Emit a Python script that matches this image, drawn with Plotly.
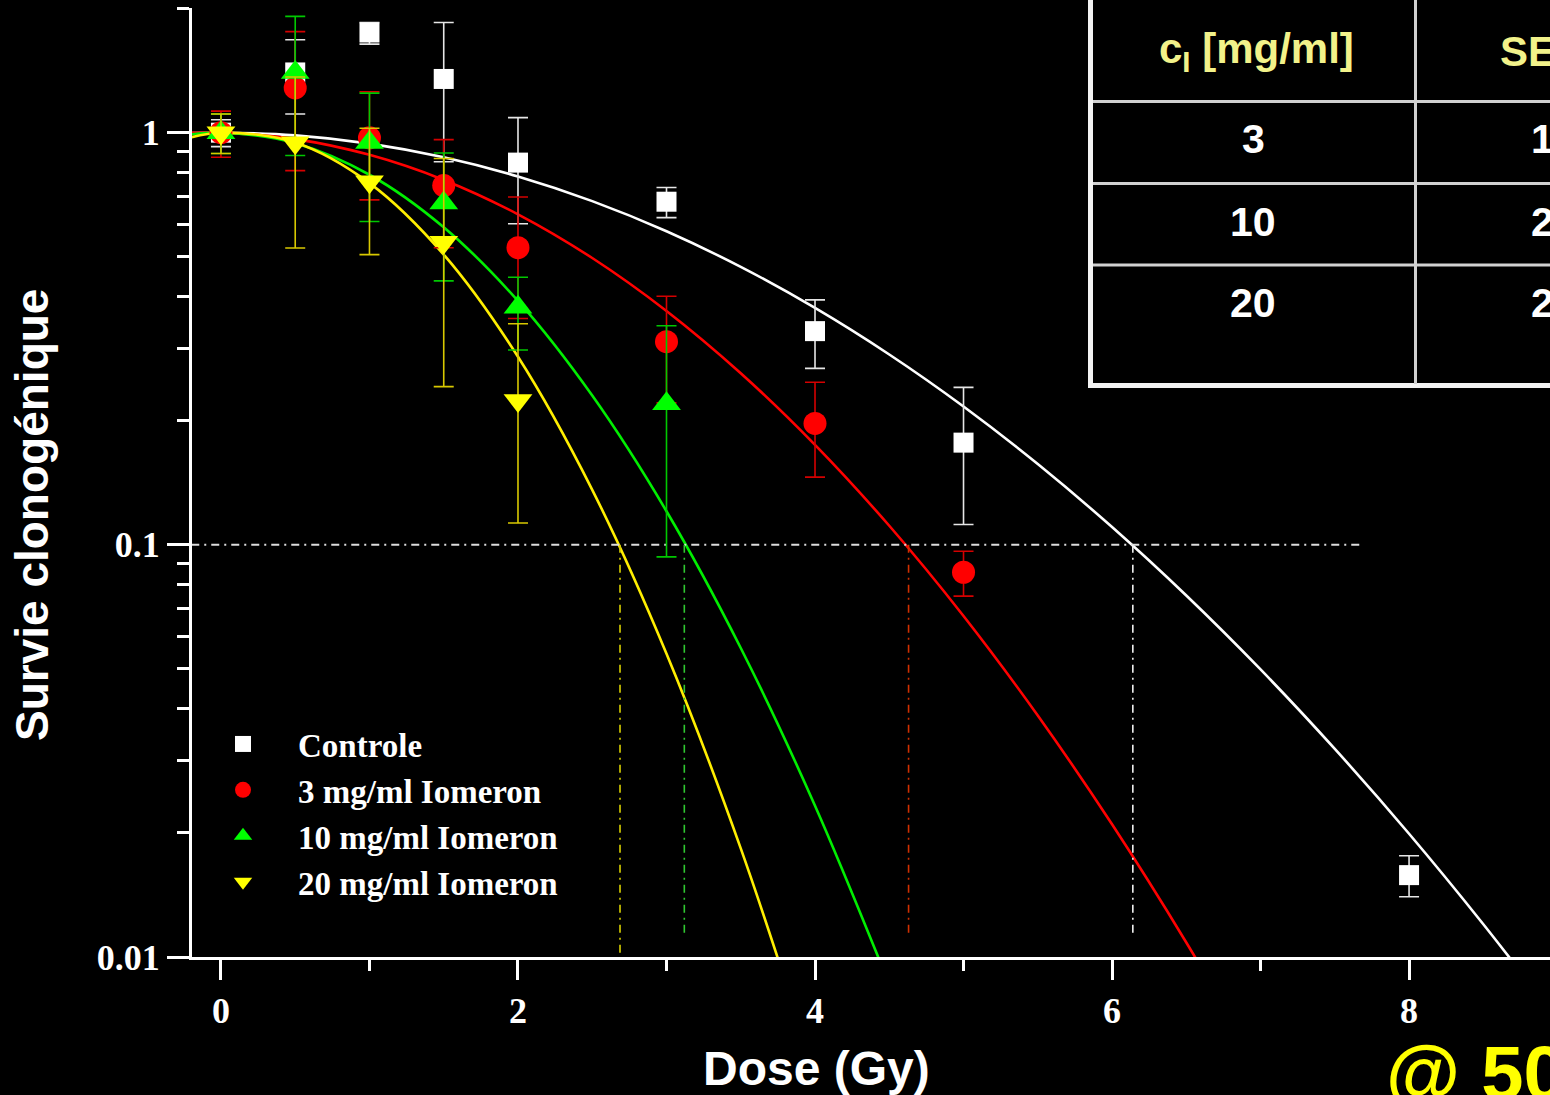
import plotly.graph_objects as go

# ---- measured clonogenic survival (mean and error) ----
dose_ctrl = [0, 0.5, 1, 1.5, 2, 3, 4, 5, 8]
surv_ctrl = [1.0, 1.40, 1.75, 1.35, 0.846, 0.680, 0.330, 0.177, 0.0158]
err_ctrl_up = [0.075, 0.28, 0.10, 0.50, 0.242, 0.056, 0.063, 0.064, 0.0018]
err_ctrl_dn = [0.075, 0.29, 0.11, 0.50, 0.245, 0.058, 0.062, 0.065, 0.0018]

dose_3 = [0, 0.5, 1, 1.5, 2, 3, 4, 5]
surv_3 = [1.0, 1.284, 0.972, 0.744, 0.526, 0.311, 0.197, 0.0858]
err_3 = [0.128, 0.475, 0.285, 0.218, 0.172, 0.090, 0.051, 0.0107]

dose_10 = [0, 0.5, 1, 1.5, 2, 3]
surv_10 = [1.0, 1.40, 0.947, 0.675, 0.377, 0.220]
err_10_up = [0.11, 0.515, 0.30, 0.218, 0.069, 0.120]
err_10_dn = [0.11, 0.52, 0.338, 0.238, 0.080, 0.1265]

dose_20 = [0, 0.5, 1, 1.5, 2]
surv_20 = [1.0, 0.945, 0.760, 0.542, 0.224]
err_20_up = [0.11, 0.42, 0.265, 0.324, 0.12]
err_20_dn = [0.11, 0.42, 0.254, 0.30, 0.111]

# ---- fitted survival curves, sampled along dose ----
fit_dose_ctrl = [-0.2, 0, 0.5, 1, 1.5, 2, 2.5, 3, 3.5, 4, 4.5, 5, 5.5, 6, 6.5, 7, 7.5, 8, 8.5, 9]
fit_surv_ctrl = [0.99755, 1.0, 0.98482, 0.94064, 0.87136, 0.78286, 0.68213, 0.57648,
                 0.47250, 0.37562, 0.28957, 0.21654, 0.15703, 0.11045, 0.07534,
                 0.04985, 0.03198, 0.01991, 0.01201, 0.00703]

fit_dose_3 = [-0.2, 0, 0.5, 1, 1.5, 2, 2.5, 3, 3.5, 4, 4.5, 5, 5.5, 6, 6.5, 7]
fit_surv_3 = [0.99984, 1.0, 0.96464, 0.88338, 0.76798, 0.63381, 0.49659, 0.36935,
              0.26080, 0.17482, 0.11124, 0.067206, 0.038542, 0.020984, 0.010846, 0.0053215]

fit_dose_10 = [-0.2, 0, 0.5, 1, 1.5, 2, 2.5, 3, 3.5, 4, 4.5]
fit_surv_10 = [0.99064, 1.0, 0.94294, 0.79057, 0.58934, 0.39063, 0.23021, 0.12064,
               0.056205, 0.023284, 0.0085763]

fit_dose_20 = [-0.2, 0, 0.5, 1, 1.5, 2, 2.5, 3, 3.5, 4]
fit_surv_20 = [0.97405, 1.0, 0.94670, 0.75450, 0.50623, 0.28593, 0.13596, 0.054427,
               0.018342, 0.0052036]

# ---- 10 % survival level and the corresponding doses ----
ref_level = 0.1
ref_line_dose = [-0.2, 7.67]
d10_dose = [6.14, 4.63, 3.12, 2.687]
d10_floor = [0.0114, 0.0114, 0.0114, 0.0100]

# ---- table contents ----
table_header = ["c<sub>I</sub> [mg/ml]", "SE"]
table_conc = ["3", "10", "20"]
table_second = ["1", "2", "2"]

series_names = ["Controle", "3 mg/ml Iomeron", "10 mg/ml Iomeron", "20 mg/ml Iomeron"]
marker_colors = ["#ffffff", "#ff0000", "#00ff00", "#ffff00"]
curve_colors = ["#ffffff", "#ff0000", "#00ee00", "#ffee00"]
err_colors = ["#e6e6e6", "#d40000", "#00c800", "#d8c800"]
d10_colors = ["#f0f0f0", "#d03000", "#30c830", "#d8d000"]
symbols = ["square", "circle", "triangle-up", "triangle-down"]
marker_sizes = [20, 23, 25, 25]

W, H = 1550, 1095
ML, MT, MB, MR = 192, 8, 138, 0
PW, PH = W - ML - MR, H - MT - MB


def px(xp):
    return (xp - ML) / PW


def py(yp):
    return (H - MB - yp) / PH


fig = go.Figure()

# fitted curves
for xs, ys, col in [(fit_dose_ctrl, fit_surv_ctrl, curve_colors[0]),
                    (fit_dose_3, fit_surv_3, curve_colors[1]),
                    (fit_dose_10, fit_surv_10, curve_colors[2]),
                    (fit_dose_20, fit_surv_20, curve_colors[3])]:
    fig.add_trace(go.Scatter(x=xs, y=ys, mode="lines", showlegend=False,
                             line=dict(color=col, width=2.6, shape="spline", smoothing=1.0),
                             hoverinfo="skip"))

# 10 % survival guide lines
fig.add_trace(go.Scatter(x=ref_line_dose, y=[ref_level, ref_level], mode="lines",
                         showlegend=False, hoverinfo="skip",
                         line=dict(color="#dcdcdc", width=2, dash="8px,5px,2px,5px")))
for d, lo, col in zip(d10_dose, d10_floor, d10_colors):
    fig.add_trace(go.Scatter(x=[d, d], y=[ref_level, lo], mode="lines",
                             showlegend=False, hoverinfo="skip",
                             line=dict(color=col, width=1.6, dash="8px,5px,2px,5px")))

# measured points with error bars
data_sets = [
    (dose_ctrl, surv_ctrl, err_ctrl_up, err_ctrl_dn),
    (dose_3, surv_3, err_3, err_3),
    (dose_10, surv_10, err_10_up, err_10_dn),
    (dose_20, surv_20, err_20_up, err_20_dn),
]
for i, (xs, ys, eu, ed) in enumerate(data_sets):
    fig.add_trace(go.Scatter(
        x=xs, y=ys, mode="markers", name=series_names[i],
        marker=dict(symbol=symbols[i], size=marker_sizes[i], color=marker_colors[i],
                    line=dict(width=0)),
        error_y=dict(type="data", symmetric=False, array=eu, arrayminus=ed,
                     color=err_colors[i], thickness=1.6, width=10),
    ))

serif = "Liberation Serif, Times New Roman, serif"
sans = "Liberation Sans, Arial, sans-serif"

fig.update_layout(
    width=W, height=H,
    margin=dict(l=ML, r=MR, t=MT, b=MB, pad=0),
    paper_bgcolor="black", plot_bgcolor="black",
    showlegend=True,
    legend=dict(x=px(188), y=py(716), xanchor="left", yanchor="top",
                bgcolor="rgba(0,0,0,0)", borderwidth=0, itemwidth=100,
                font=dict(family=serif, size=33, color="white", weight="bold"),
                itemsizing="trace"),
    xaxis=dict(range=[-0.195, 8.949], showgrid=False, zeroline=False,
               showline=True, linecolor="white", linewidth=3,
               ticks="outside", tickvals=[0, 2, 4, 6, 8], ticklen=20, tickwidth=3,
               tickcolor="white",
               tickfont=dict(family=serif, size=36, color="white", weight="bold"),
               minor=dict(tickvals=[1, 3, 5, 7], ticks="outside", ticklen=11,
                          tickwidth=3, tickcolor="white")),
    yaxis=dict(type="log", range=[-2, 0.3025], showgrid=False, zeroline=False,
               showline=True, linecolor="white", linewidth=3,
               ticks="outside", tickvals=[0.01, 0.1, 1], ticktext=["0.01", "0.1", "1"],
               ticklen=22, tickwidth=3, tickcolor="white",
               tickfont=dict(family=serif, size=36, color="white", weight="bold"),
               minor=dict(tickvals=[0.02, 0.03, 0.04, 0.05, 0.06, 0.07, 0.08, 0.09,
                                    0.2, 0.3, 0.4, 0.5, 0.6, 0.7, 0.8, 0.9, 2],
                          ticks="outside", ticklen=12, tickwidth=3, tickcolor="white")),
)

annotations = [
    dict(text="Survie clonogénique", x=px(32), y=py(515), textangle=-90,
         font=dict(family=sans, size=46, color="white", weight="bold")),
    dict(text="Dose (Gy)", x=px(816), y=py(1068),
         font=dict(family=sans, size=48, color="white", weight="bold")),
    dict(text="@ 50", x=px(1384), y=py(1028), xanchor="left", yanchor="top",
         font=dict(family=sans, size=76, color="#ffff00", weight="bold")),
    dict(text=table_header[0], x=px(1256), y=py(52),
         font=dict(family=sans, size=42, color="#f2f28a", weight="bold")),
    dict(text=table_header[1], x=px(1498), y=py(52), xanchor="left",
         font=dict(family=sans, size=42, color="#f2f28a", weight="bold")),
]
row_y = [139, 222, 303]
for yy, c1, c2 in zip(row_y, table_conc, table_second):
    annotations.append(dict(text=c1, x=px(1253), y=py(yy),
                            font=dict(family=sans, size=41, color="white", weight="bold")))
    annotations.append(dict(text=c2, x=px(1529), y=py(yy), xanchor="left",
                            font=dict(family=sans, size=41, color="white", weight="bold")))
for a in annotations:
    a.update(xref="paper", yref="paper", showarrow=False)
    a.setdefault("xanchor", "center")
    a.setdefault("yanchor", "middle")
fig.update_layout(annotations=annotations)

# table frame
shapes = [
    dict(type="line", x0=px(1090.5), x1=px(1090.5), y0=py(-10), y1=py(388),
         line=dict(color="#f2f2f2", width=5)),
    dict(type="line", x0=px(1088), x1=px(1570), y0=py(385.5), y1=py(385.5),
         line=dict(color="#f2f2f2", width=5)),
    dict(type="line", x0=px(1415.5), x1=px(1415.5), y0=py(-10), y1=py(384),
         line=dict(color="#d0d0d0", width=3)),
]
for yy in [101.5, 183.5, 265]:
    shapes.append(dict(type="line", x0=px(1093), x1=px(1570), y0=py(yy), y1=py(yy),
                       line=dict(color="#d0d0d0", width=3)))
for s in shapes:
    s.update(xref="paper", yref="paper", layer="above")
fig.update_layout(shapes=shapes)

fig.write_html("out.html")
